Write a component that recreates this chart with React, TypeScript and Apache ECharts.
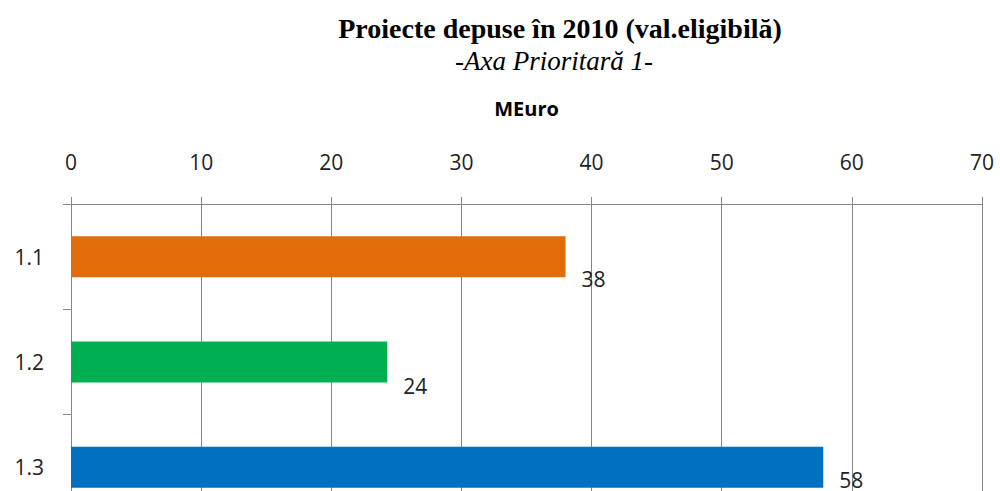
import React, { useEffect, useRef } from "react";
import * as echarts from "echarts";

const titleText = "Proiecte depuse în 2010 (val.eligibilă)";
const subtitleText = "-Axa Prioritară 1-";
const axisName = "MEuro";
const categories = ["1.1", "1.2", "1.3"];
const values = [38.0, 24.3, 57.8];
const barColors = ["#E36C0A", "#00B050", "#0070C0"];
const axisMin = 0;
const axisMax = 70;
const axisStep = 10;

// label vertical shifts (styling only)
const labelShiftY = [22, 24, 13];

export default function App() {
  const ref = useRef<HTMLDivElement>(null);
  useEffect(() => {
    if (!ref.current) return;
    const chart = echarts.init(ref.current, null, { renderer: "svg" });
    const sans = "'Open Sans', 'Noto Sans', sans-serif";
    const serif = "'Liberation Serif', 'DejaVu Serif', serif";
    chart.setOption({
      animation: false,
      backgroundColor: "#ffffff",
      title: [
        {
          text: titleText,
          left: 555,
          top: 9,
          textAlign: "center",
          textStyle: { fontFamily: serif, fontWeight: "bold", fontSize: 28, color: "#000" },
        },
        {
          text: subtitleText,
          left: 549,
          top: 42,
          textAlign: "center",
          textStyle: { fontFamily: serif, fontStyle: "italic", fontWeight: "normal", fontSize: 27, color: "#000" },
        },
      ],
      grid: { left: 71, right: 18, top: 204, bottom: 20, containLabel: false },
      xAxis: {
        type: "value",
        position: "top",
        min: axisMin,
        max: axisMax,
        interval: axisStep,
        name: axisName,
        nameLocation: "middle",
        nameGap: 86,
        nameTextStyle: { fontFamily: sans, fontWeight: "bold", fontSize: 20, color: "#000" },
        axisLine: { show: true, lineStyle: { color: "#868686", width: 1 } },
        axisTick: { show: true, length: 7, lineStyle: { color: "#868686" } },
        axisLabel: { margin: 32, fontFamily: sans, fontSize: 21, color: "#222" },
        splitLine: { show: true, lineStyle: { color: "#868686", width: 1 } },
      },
      yAxis: {
        type: "category",
        inverse: true,
        data: categories,
        axisLine: { show: true, lineStyle: { color: "#868686", width: 1 } },
        axisTick: { show: true, length: 8, lineStyle: { color: "#868686" } },
        axisLabel: { margin: 27, fontFamily: sans, fontSize: 21, color: "#222" },
      },
      series: [
        {
          type: "bar",
          barWidth: 41,
          data: values.map((v, i) => ({
            value: v,
            itemStyle: { color: barColors[i] },
            label: { offset: [0, labelShiftY[i]] },
          })),
          label: {
            show: true,
            position: "right",
            distance: 16,
            fontFamily: sans,
            fontSize: 21,
            color: "#222",
            formatter: (p: any) => String(Math.round(p.value)),
          },
        },
      ],
    });
    return () => chart.dispose();
  }, []);
  return (
    <div
      style={{
        position: "fixed",
        left: 0,
        top: 0,
        width: 1000,
        height: 491,
        overflow: "hidden",
        background: "#fff",
      }}
    >
      <div ref={ref} style={{ width: 1000, height: 540 }} />
    </div>
  );
}
